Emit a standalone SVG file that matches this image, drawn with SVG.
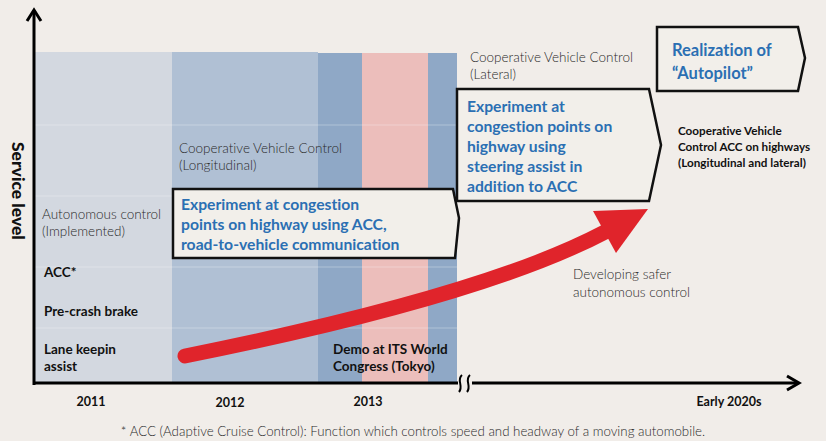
<svg xmlns="http://www.w3.org/2000/svg" width="826" height="441" viewBox="0 0 826 441">
  <style>
    text { font-variant-ligatures: none; }
    .thin { font-family: Lato, "Open Sans", "Liberation Sans", sans-serif; font-weight: 300; font-size: 13.5px; fill: #2a2a2a; }
    .bold { font-family: Lato, "Open Sans", "Liberation Sans", sans-serif; font-weight: 700; font-size: 13.5px; fill: #111; }
    .blue { font-family: Lato, "Open Sans", "Liberation Sans", sans-serif; font-weight: 700; font-size: 15.7px; fill: #2b6fb3; }
    .year { font-family: Lato, "Open Sans", "Liberation Sans", sans-serif; font-weight: 700; font-size: 12.5px; fill: #111; text-anchor: middle; }
    .box { fill: #f2efea; stroke: #111; stroke-width: 2.5; stroke-linejoin: miter; }
    .axis { fill: none; stroke: #000; stroke-width: 3; }
    .grid { stroke: #ffffff; stroke-opacity: 0.3; stroke-width: 1; }
  </style>
  <rect width="826" height="441" fill="#f1ede9"/>

  <!-- period bands -->
  <g id="bands">
    <rect x="34" y="52" width="138" height="331" fill="#d3d8e0"/>
    <rect x="172" y="52" width="146" height="331" fill="#b0c0d4"/>
    <rect x="318" y="53" width="44" height="330" fill="#8fa8c6"/>
    <rect x="362" y="53" width="66" height="330" fill="#ecbebb"/>
    <rect x="428" y="53" width="29" height="330" fill="#8fa8c6"/>
    <line class="grid" x1="34" y1="125" x2="457" y2="125"/>
    <line class="grid" x1="34" y1="196" x2="457" y2="196"/>
    <line class="grid" x1="34" y1="267" x2="457" y2="267"/>
    <line class="grid" x1="34" y1="328" x2="457" y2="328"/>
  </g>

  <!-- axes -->
  <g id="axes">
    <line class="axis" x1="34" y1="385" x2="34" y2="10"/>
    <polyline class="axis" points="27,21 34,10 41,21"/>
    <line class="axis" x1="34" y1="383" x2="458" y2="383"/>
    <line class="axis" x1="472" y1="383" x2="798" y2="383"/>
    <polyline class="axis" points="787,376 799,383 787,390"/>
    <path d="M462,375 C456,380 464,386 459,392 M470,375 C464,380 472,386 467,392" fill="none" stroke="#000" stroke-width="2"/>
    <text class="bold" transform="translate(12,142) rotate(90)" style="font-size:17.5px;font-weight:900">Service level</text>
  </g>

  <!-- labels on the chart -->
  <g id="labels">
    <text class="thin" x="179" y="153">Cooperative Vehicle Control</text>
    <text class="thin" x="179" y="170">(Longitudinal)</text>
    <text class="thin" x="42" y="219">Autonomous control</text>
    <text class="thin" x="42" y="236">(Implemented)</text>
    <text class="bold" x="44" y="277">ACC*</text>
    <text class="bold" x="44" y="316">Pre-crash brake</text>
    <text class="bold" x="44" y="354">Lane keepin</text>
    <text class="bold" x="44" y="371">assist</text>
    <text class="bold" x="333" y="354">Demo at ITS World</text>
    <text class="bold" x="333" y="371">Congress (Tokyo)</text>
    <text class="thin" x="470" y="62">Cooperative Vehicle Control</text>
    <text class="thin" x="470" y="79">(Lateral)</text>
    <text class="thin" x="573" y="279">Developing safer</text>
    <text class="thin" x="573" y="297">autonomous control</text>
    <text class="bold" x="678" y="135" style="font-size:11.7px">Cooperative Vehicle</text>
    <text class="bold" x="678" y="151" style="font-size:11.7px">Control ACC on highways</text>
    <text class="bold" x="678" y="167" style="font-size:11.7px">(Longitudinal and lateral)</text>
  </g>

  <!-- year labels -->
  <g id="years">
    <text class="year" x="91" y="406">2011</text>
    <text class="year" x="230" y="407">2012</text>
    <text class="year" x="368" y="406">2013</text>
    <text class="year" x="729" y="406">Early 2020s</text>
  </g>

  <!-- red progress arrow -->
  <g id="progress">
    <path d="M185,356 Q484,296 605,232" fill="none" stroke="#e0242b" stroke-width="15" stroke-linecap="round"/>
    <polygon points="593,211 648,209 616,253" fill="#e0242b"/>
  </g>

  <!-- milestone boxes -->
  <g id="box-longitudinal">
    <polygon class="box" points="173,189 453,189 459,218 455,258 173,258"/>
    <text class="blue" x="181" y="210">Experiment at congestion</text>
    <text class="blue" x="181" y="230">points on highway using ACC,</text>
    <text class="blue" x="181" y="250">road-to-vehicle communication</text>
  </g>
  <g id="box-lateral">
    <polygon class="box" points="457,89 649,89 661,145 649,201 457,201"/>
    <text class="blue" x="467" y="112">Experiment at</text>
    <text class="blue" x="467" y="132">congestion points on</text>
    <text class="blue" x="467" y="152">highway using</text>
    <text class="blue" x="467" y="172">steering assist in</text>
    <text class="blue" x="467" y="192">addition to ACC</text>
  </g>
  <g id="box-autopilot">
    <polygon class="box" points="657,27 798,27 805,58 798,91 657,91"/>
    <text class="blue" x="672" y="56" style="font-size:16.5px">Realization of</text>
    <text class="blue" x="672" y="79" style="font-size:16.5px">“Autopilot”</text>
  </g>

  <text class="thin" x="413" y="436" text-anchor="middle" style="font-size:13.3px">* ACC (Adaptive Cruise Control): Function which controls speed and headway of a moving automobile.</text>
</svg>
